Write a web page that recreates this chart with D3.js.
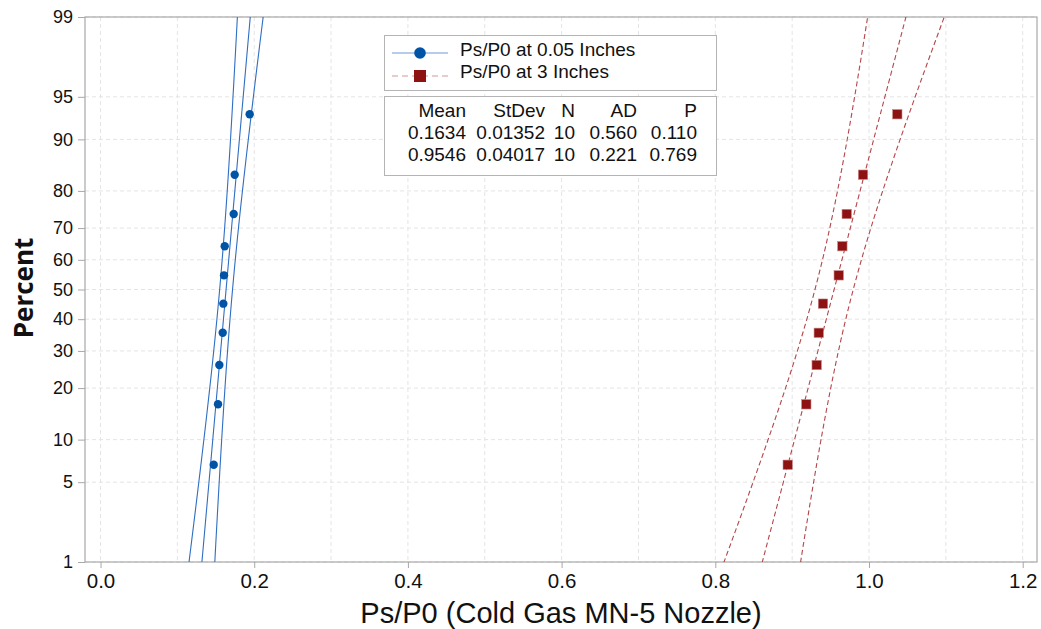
<!DOCTYPE html>
<html><head><meta charset="utf-8">
<script src="https://cdn.jsdelivr.net/npm/d3@7"></script>
<style>
html,body{margin:0;padding:0;background:#fff;}
svg{display:block;font-family:"Open Sans","Noto Sans",sans-serif;}
.lgt{font-family:"Liberation Sans",Arial,sans-serif;}
</style></head>
<body><svg id="chart" width="1041" height="629"></svg>
<script>
// ---- data ----
const seriesNames = ["Ps/P0 at 0.05 Inches", "Ps/P0 at 3 Inches"];
const percents = [6.73, 16.35, 25.96, 35.58, 45.19, 54.81, 64.42, 74.04, 83.65, 93.27];
const valuesA = [0.1473, 0.1529, 0.1546, 0.1590, 0.1598, 0.1607, 0.1616, 0.1733, 0.1746, 0.1941];
const valuesB = [0.8942, 0.9184, 0.9319, 0.9346, 0.9401, 0.9606, 0.9653, 0.9710, 0.9922, 1.0368];
const statHeaders = ["Mean", "StDev", "N", "AD", "P"];
const statsA = ["0.1634", "0.01352", "10", "0.560", "0.110"];
const statsB = ["0.9546", "0.04017", "10", "0.221", "0.769"];
const meanA = 0.1634, sdA = 0.01352, meanB = 0.9546, sdB = 0.04017, nObs = 10;
const xTicks = [0, 0.2, 0.4, 0.6, 0.8, 1.0, 1.2];
const xGrid = [0,0.1,0.2,0.3,0.4,0.5,0.6,0.7,0.8,0.9,1.0,1.1,1.2];
const yTicks = [1, 5, 10, 20, 30, 40, 50, 60, 70, 80, 90, 95, 99];

// inverse normal CDF (Acklam)
function qnorm(p){
  const a=[-3.969683028665376e+01,2.209460984245205e+02,-2.759285104469687e+02,1.383577518672690e+02,-3.066479806614716e+01,2.506628277459239e+00];
  const b=[-5.447609879822406e+01,1.615858368580409e+02,-1.556989798598866e+02,6.680131188771972e+01,-1.328068155288572e+01];
  const c=[-7.784894002430293e-03,-3.223964580411365e-01,-2.400758277161838e+00,-2.549732539343734e+00,4.374664141464968e+00,2.938163982698783e+00];
  const d=[7.784695709041462e-03,3.224671290700398e-01,2.445134137142996e+00,3.754408661907416e+00];
  const pl=0.02425;let q,r;
  if(p<pl){q=Math.sqrt(-2*Math.log(p));return (((((c[0]*q+c[1])*q+c[2])*q+c[3])*q+c[4])*q+c[5])/((((d[0]*q+d[1])*q+d[2])*q+d[3])*q+1);}
  if(p<=1-pl){q=p-0.5;r=q*q;return (((((a[0]*r+a[1])*r+a[2])*r+a[3])*r+a[4])*r+a[5])*q/(((((b[0]*r+b[1])*r+b[2])*r+b[3])*r+b[4])*r+1);}
  q=Math.sqrt(-2*Math.log(1-p));return -(((((c[0]*q+c[1])*q+c[2])*q+c[3])*q+c[4])*q+c[5])/((((d[0]*q+d[1])*q+d[2])*q+d[3])*q+1);
}

const svg = d3.select("#chart");
const L=85, R=1037, T=17, B=562;
const x = d3.scaleLinear().domain([-0.0202, 1.2186]).range([L, R]);
const zy = d3.scaleLinear().domain([qnorm(0.01), qnorm(0.99)]).range([B, T]);
const y = p => zy(qnorm(p/100));

const axisCol = "#a8a8a8", gridCol = "#e4e4e4", txt = "#111";
const blue = "#0054a6", blueLine = "#2f6ec2", red = "#8e1212", redLine = "#b4464a";

// grid
const g = svg.append("g");
g.selectAll(".vg").data(xGrid).join("line")
  .attr("x1", d=>x(d)).attr("x2", d=>x(d)).attr("y1", T).attr("y2", B)
  .attr("stroke", gridCol).attr("stroke-dasharray", "4,3");
g.selectAll(".hg").data(yTicks).join("line")
  .attr("x1", L).attr("x2", R).attr("y1", d=>y(d)).attr("y2", d=>y(d))
  .attr("stroke", gridCol).attr("stroke-dasharray", "4,3");

// frame
svg.append("rect").attr("x", L).attr("y", T).attr("width", R-L).attr("height", B-T)
  .attr("fill", "none").attr("stroke", axisCol).attr("stroke-width", 1.2);

// axes
const xAxis = d3.axisBottom(x).tickValues(xTicks).tickFormat(d3.format(".1f")).tickSize(6).tickPadding(5);
const ax = svg.append("g").attr("transform", `translate(0,${B})`).call(xAxis);
ax.select(".domain").remove();
ax.selectAll("line").attr("stroke", axisCol);
ax.selectAll("text").attr("font-size", 20.5).attr("fill", txt);

const yAxis = d3.axisLeft(zy).tickValues(yTicks.map(p=>qnorm(p/100))).tickFormat((d,i)=>yTicks[i]).tickSize(7).tickPadding(5);
const ay = svg.append("g").attr("transform", `translate(${L},0)`).call(yAxis);
ay.select(".domain").remove();
ay.selectAll("line").attr("stroke", axisCol);
ay.selectAll("text").attr("font-size", 18).attr("fill", txt);

// titles
svg.append("text").attr("class", "lgt").attr("x", 561).attr("y", 622.5).attr("text-anchor", "middle")
  .attr("font-size", 29).attr("fill", txt).text("Ps/P0 (Cold Gas MN-5 Nozzle)");
svg.append("text").attr("transform", "translate(33,288) rotate(-90)").attr("text-anchor", "middle")
  .attr("font-size", 26).attr("font-weight", 700).attr("fill", txt).text("Percent");

// fit lines and CI bands
const plot = svg.append("g");
plot.append("clipPath").attr("id","clip").append("rect").attr("x",L).attr("y",T).attr("width",R-L).attr("height",B-T);
const zs = d3.range(-2.40, 2.401, 0.05);
function band(mean, sd, k){
  return zs.map(z => [mean + z*sd + k*1.96*sd*Math.sqrt(1/nObs + z*z/(2*(nObs-1))), z]);
}
const line = d3.line().x(d=>x(d[0])).y(d=>zy(d[1]));
function drawFit(mean, sd, col, dash){
  [-1,0,1].forEach(k=>{
    plot.append("path").attr("d", line(band(mean, sd, k))).attr("fill","none")
      .attr("stroke", col).attr("stroke-width", 1.1).attr("clip-path","url(#clip)")
      .attr("stroke-dasharray", dash);
  });
}
drawFit(meanA, sdA, blueLine, null);
drawFit(meanB, sdB, redLine, "5,3");

// points
plot.selectAll(".pa").data(valuesA).join("circle")
  .attr("cx", d=>x(d)).attr("cy", (d,i)=>y(percents[i])).attr("r", 4.2).attr("fill", blue);
plot.selectAll(".pb").data(valuesB).join("rect")
  .attr("x", d=>x(d)-4.7).attr("y", (d,i)=>y(percents[i])-4.7).attr("width", 9.4).attr("height", 9.4)
  .attr("fill", red).attr("stroke", "#c98a8a").attr("stroke-width", 0.6);

// legend
const lg = svg.append("g");
lg.append("rect").attr("x", 384.5).attr("y", 35.5).attr("width", 332).attr("height", 55)
  .attr("fill", "#fff").attr("stroke", "#b4b4b4");
lg.append("line").attr("x1", 392).attr("x2", 448).attr("y1", 53).attr("y2", 53).attr("stroke", "#6d9bd6").attr("stroke-width", 1.2);
lg.append("circle").attr("cx", 420).attr("cy", 53).attr("r", 5.8).attr("fill", blue);
lg.append("line").attr("x1", 392).attr("x2", 448).attr("y1", 76).attr("y2", 76).attr("stroke", "#d09a9c").attr("stroke-width", 1.2).attr("stroke-dasharray", "6,4");
lg.append("rect").attr("x", 414).attr("y", 70).attr("width", 12).attr("height", 12).attr("fill", red);
lg.selectAll(".lt").data(seriesNames).join("text").attr("class", "lgt")
  .attr("x", 460).attr("y", (d,i)=>[55.7,78.3][i])
  .attr("font-size", 19).attr("fill", txt).text(d=>d);

// stats table
lg.append("rect").attr("x", 384.5).attr("y", 96.5).attr("width", 332).attr("height", 79)
  .attr("fill", "#fff").attr("stroke", "#b4b4b4");
const colRight = [466, 545, 575, 637, 697];
[statHeaders, statsA, statsB].forEach((row, r)=>{
  lg.selectAll(".r"+r).data(row).join("text").attr("class", "lgt")
    .attr("x", (d,i)=>colRight[i]).attr("y", [116.7, 139, 160.5][r])
    .attr("text-anchor", "end").attr("font-size", 19).attr("fill", txt).text(d=>d);
});
</script></body></html>
